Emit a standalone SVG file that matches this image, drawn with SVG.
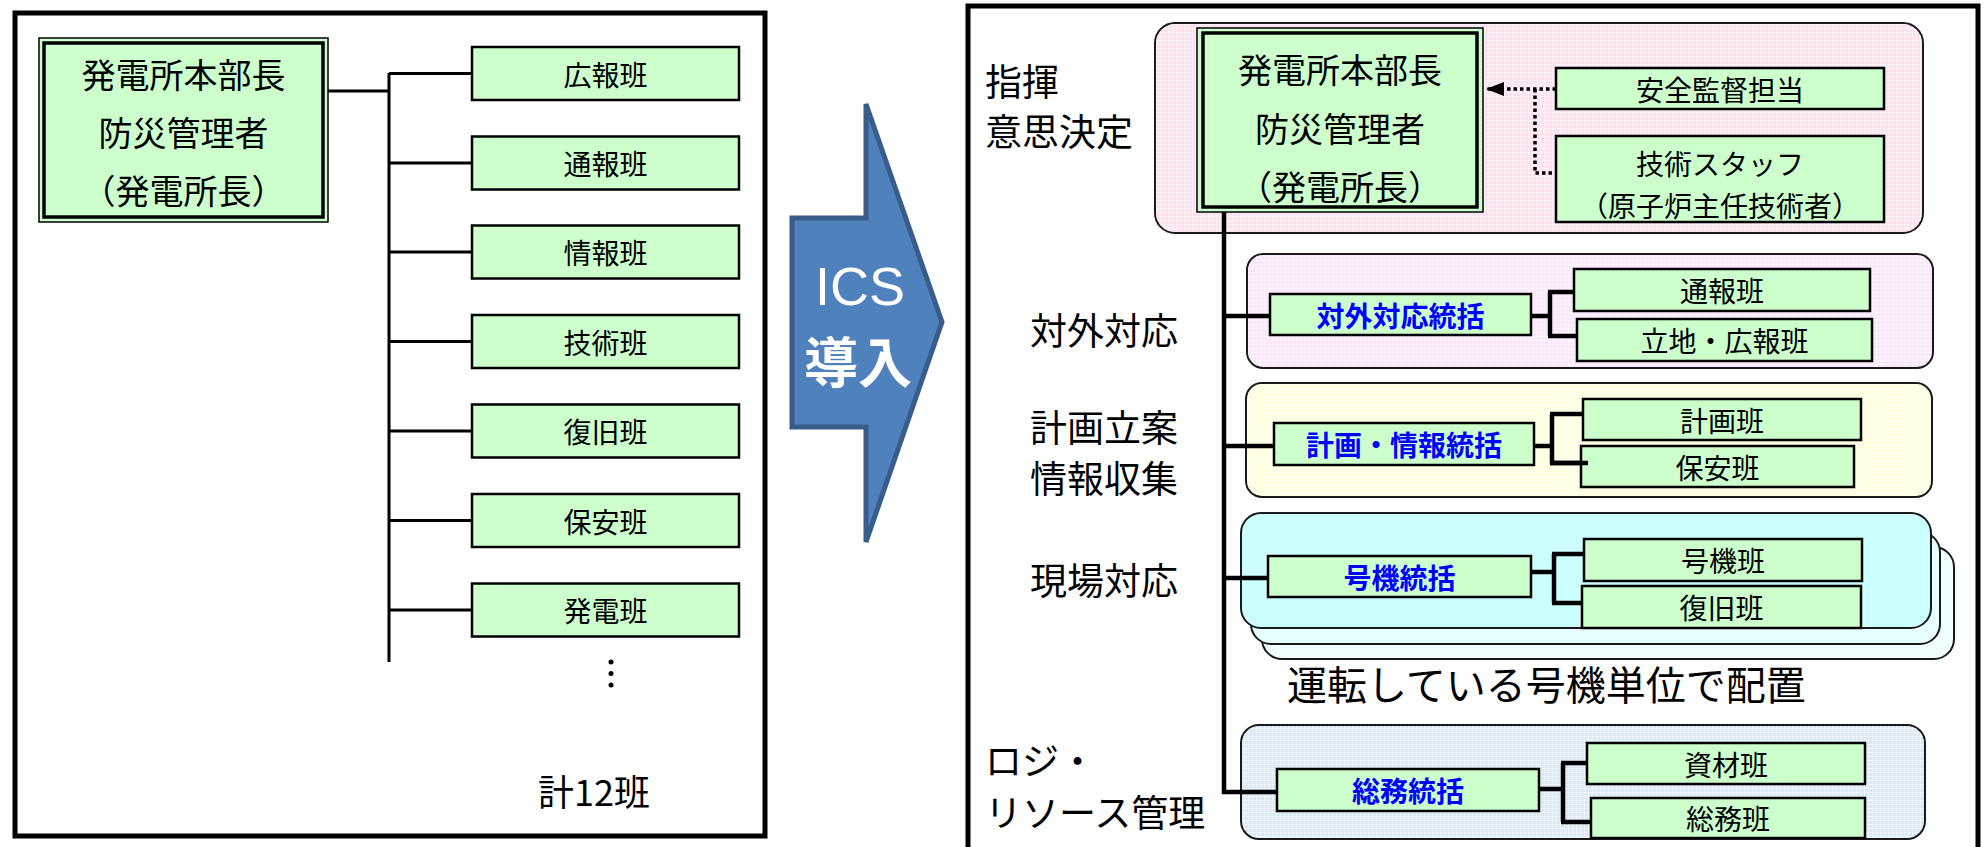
<svg xmlns="http://www.w3.org/2000/svg" width="1986" height="847" viewBox="0 0 1986 847">
<style>
text{font-family:"Noto Sans CJK JP","Noto Sans",sans-serif;fill:#000;}
.c{text-anchor:middle;dominant-baseline:central;}
.l{text-anchor:start;dominant-baseline:central;}
.t34{font-size:34px;}
.t28{font-size:28px;}
.t38{font-size:37px;}
.hq{font-size:28px;font-weight:bold;fill:#0000FF;}
.box{fill:#CCFFCC;stroke:#000;stroke-width:2.5;}
.outer{fill:#CCFFCC;stroke:#000;stroke-width:1.5;}
.inner{fill:none;stroke:#000;stroke-width:3.5;}
.panel{fill:#fff;stroke:#000;stroke-width:5;}
.grp{stroke:#1a1a1a;stroke-width:2;}
.ln{fill:none;stroke:#000;stroke-width:4.5;stroke-linecap:butt;}
.lnL{fill:none;stroke:#000;stroke-width:3;}
.dot{fill:none;stroke:#000;stroke-width:3.5;stroke-dasharray:3.5 3;}
</style>
<defs>
<marker id="ah" viewBox="0 0 18 14" markerWidth="18" markerHeight="14" refX="18" refY="7" orient="auto" markerUnits="userSpaceOnUse">
<path d="M0,0 L18,7 L0,14 z" fill="#000"/>
</marker>
<pattern id="grid" width="4" height="4" patternUnits="userSpaceOnUse">
<path d="M0,0.5 H4 M0.5,0 V4" stroke="#ffffff" stroke-opacity="0.45" stroke-width="1" fill="none"/>
</pattern>
</defs>

<!-- Left panel -->
<rect class="panel" x="15" y="13" width="750" height="823"/>

<g id="left-connectors">
<path class="lnL" d="M328,91 H389 M389,73 V662 M389,73.5 H472 M389,163 H472 M389,252 H472 M389,341.5 H472 M389,431 H472 M389,520.5 H472 M389,610 H472"/>
</g>

<g id="left-head">
<rect class="outer" x="39" y="38" width="289" height="184"/>
<rect class="inner" x="44" y="43" width="279" height="174"/>
<text class="c t34" x="183.5" y="73">発電所本部長</text>
<text class="c t34" x="183.5" y="131">防災管理者</text>
<text class="c t34" x="183.5" y="189">（発電所長）</text>
</g>
<g id="left-kouhou"><rect class="box" x="472" y="47" width="267" height="53"/><text class="c t28" x="605.5" y="73.5">広報班</text></g>
<g id="left-tsuuhou"><rect class="box" x="472" y="136.5" width="267" height="53"/><text class="c t28" x="605.5" y="163">通報班</text></g>
<g id="left-jouhou"><rect class="box" x="472" y="225.5" width="267" height="53"/><text class="c t28" x="605.5" y="252">情報班</text></g>
<g id="left-gijutsu"><rect class="box" x="472" y="315" width="267" height="53"/><text class="c t28" x="605.5" y="341.5">技術班</text></g>
<g id="left-fukkyuu"><rect class="box" x="472" y="404.5" width="267" height="53"/><text class="c t28" x="605.5" y="431">復旧班</text></g>
<g id="left-hoan"><rect class="box" x="472" y="494" width="267" height="53"/><text class="c t28" x="605.5" y="520.5">保安班</text></g>
<g id="left-hatsuden"><rect class="box" x="472" y="583.5" width="267" height="53"/><text class="c t28" x="605.5" y="610">発電班</text></g>
<g id="left-more">
<circle cx="611" cy="662" r="2.5"/><circle cx="611" cy="673.5" r="2.5"/><circle cx="611" cy="685" r="2.5"/>
</g>
<text class="c" x="594" y="790" style="font-size:36px">計12班</text>

<!-- Arrow -->
<g id="ics-arrow">
<polygon points="792,218 866,218 866,104 942,322 866,542 866,427 792,427" fill="#4F81BD" stroke="#385D8A" stroke-width="5" stroke-linejoin="miter"/>
<text x="860" y="305" text-anchor="middle" style="font-family:'Liberation Sans',sans-serif;font-size:54px;fill:#fff">ICS</text>
<text class="c" x="858" y="359" style="font-size:54px;font-weight:bold;fill:#fff">導入</text>
</g>

<!-- Right panel -->
<rect class="panel" x="968" y="6" width="1010" height="870"/>

<g id="grp-command">
<rect class="grp" x="1155" y="23" width="768" height="210" rx="20" fill="#FDE2EE"/>
<rect x="1156" y="24" width="766" height="208" rx="19" fill="url(#grid)"/>
</g>
<g id="grp-external">
<rect class="grp" x="1247" y="254" width="686" height="114" rx="16" fill="#FBE6FB"/>
<rect x="1248" y="255" width="684" height="112" rx="15" fill="url(#grid)"/>
</g>
<g id="grp-planning">
<rect class="grp" x="1246" y="383" width="686" height="114" rx="16" fill="#FFFFDA"/>
<rect x="1247" y="384" width="684" height="112" rx="15" fill="url(#grid)"/>
</g>
<g id="grp-field">
<rect class="grp" x="1262" y="547" width="692" height="112" rx="20" fill="#F0FFFF"/>
<rect class="grp" x="1251" y="532" width="689" height="112" rx="20" fill="#E6FFFF"/>
<rect class="grp" x="1241" y="513" width="690" height="115" rx="20" fill="#CCFFFF"/>
</g>
<g id="grp-logistics">
<rect class="grp" x="1241" y="725" width="684" height="114" rx="18" fill="#DBE9F7"/>
<rect x="1242" y="726" width="682" height="112" rx="17" fill="url(#grid)"/>
</g>

<!-- Category labels -->
<text class="l t38" x="985" y="80">指揮</text>
<text class="l t38" x="985" y="130">意思決定</text>
<text class="l t38" x="1030" y="329">対外対応</text>
<text class="l t38" x="1030" y="426">計画立案</text>
<text class="l t38" x="1030" y="477">情報収集</text>
<text class="l t38" x="1030" y="579">現場対応</text>
<text class="l" x="1287" y="683" style="font-size:40px">運転している号機単位で配置</text>
<text class="l t38" x="985" y="759">ロジ・</text>
<text class="l t38" x="985" y="811">リソース管理</text>

<g id="connectors">
<path class="ln" d="M1224,212 V792 H1277 M1224,316 H1270 M1224,446 H1274 M1224,578 H1268"/>
<path class="ln" d="M1531,316 H1550 M1550,292 V336 M1548,292 H1574 M1548,336 H1577"/>
<path class="ln" d="M1534,446 H1552 M1552,414 V463 M1550,414 H1583 M1550,463 H1588"/>
<path class="ln" d="M1531,572 H1554 M1554,554 V603 M1552,554 H1584 M1552,603 H1582"/>
<path class="ln" d="M1539,789 H1563 M1563,763 V822 M1561,763 H1587 M1561,822 H1591"/>
<path class="dot" d="M1556,89 H1486" marker-end="url(#ah)"/>
<path class="dot" d="M1535,89 V173 H1556"/>
</g>

<g id="right-head">
<rect class="outer" x="1197" y="28" width="286" height="184"/>
<rect class="inner" x="1203" y="33" width="274" height="174"/>
<text class="c t34" x="1340" y="68">発電所本部長</text>
<text class="c t34" x="1340" y="127">防災管理者</text>
<text class="c t34" x="1340" y="185">（発電所長）</text>
</g>
<g id="safety"><rect class="box" x="1556" y="68" width="328" height="41"/><text class="c t28" x="1720" y="89">安全監督担当</text></g>
<g id="tech-staff"><rect class="box" x="1556" y="136" width="328" height="86"/>
<text class="c t28" x="1720" y="163">技術スタッフ</text><text class="c t28" x="1720" y="205">（原子炉主任技術者）</text></g>

<g id="hq-external"><rect class="box" x="1270" y="294" width="261" height="41"/><text class="c hq" x="1400.5" y="314.5">対外対応統括</text></g>
<g id="tsuuhou"><rect class="box" x="1574" y="269" width="296" height="42"/><text class="c t28" x="1722" y="290">通報班</text></g>
<g id="ritchi"><rect class="box" x="1577" y="319" width="295" height="42"/><text class="c t28" x="1724.5" y="340">立地・広報班</text></g>

<g id="hq-planning"><rect class="box" x="1274" y="423" width="260" height="42"/><text class="c hq" x="1404" y="444">計画・情報統括</text></g>
<g id="keikaku"><rect class="box" x="1583" y="399" width="278" height="41"/><text class="c t28" x="1722" y="419.5">計画班</text></g>
<g id="hoan"><rect class="box" x="1581" y="446" width="273" height="41"/><text class="c t28" x="1717.5" y="466.5">保安班</text></g>
<path class="ln" d="M1550,463 H1588"/>

<g id="hq-unit"><rect class="box" x="1268" y="556" width="263" height="41"/><text class="c hq" x="1399.5" y="576.5">号機統括</text></g>
<g id="gouki"><rect class="box" x="1584" y="539" width="278" height="42"/><text class="c t28" x="1723" y="560">号機班</text></g>
<g id="fukkyuu"><rect class="box" x="1582" y="586" width="279" height="42"/><text class="c t28" x="1721.5" y="607">復旧班</text></g>

<g id="hq-general"><rect class="box" x="1277" y="769" width="262" height="42"/><text class="c hq" x="1408" y="790">総務統括</text></g>
<g id="shizai"><rect class="box" x="1587" y="743" width="278" height="41"/><text class="c t28" x="1726" y="763.5">資材班</text></g>
<g id="soumu"><rect class="box" x="1591" y="798" width="274" height="40"/><text class="c t28" x="1728" y="818">総務班</text></g>
</svg>
